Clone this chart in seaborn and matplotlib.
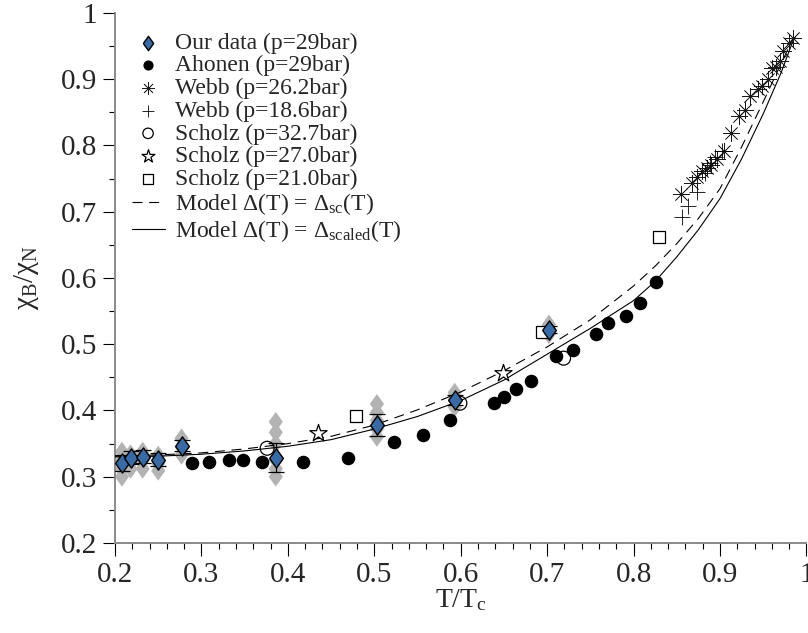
import numpy as np
import matplotlib
matplotlib.use("Agg")
import matplotlib.pyplot as plt
from matplotlib import font_manager
import seaborn as sns
from matplotlib.ticker import MultipleLocator

# ---------------- data ----------------
our_T = [0.208, 0.218, 0.232, 0.250, 0.277, 0.386, 0.503, 0.593, 0.702]
our_chi = [0.321, 0.329, 0.330, 0.326, 0.347, 0.329, 0.378, 0.416, 0.522]
our_err = [0.012, 0.010, 0.010, 0.010, 0.008, 0.022, 0.016, 0.008, 0.005]

# individual measurements (grey diamonds)
grey_T = [0.208, 0.208, 0.208, 0.208,
          0.218, 0.218, 0.218,
          0.232, 0.232, 0.232,
          0.250, 0.250, 0.250,
          0.277, 0.277, 0.277,
          0.386, 0.386, 0.386, 0.386, 0.386, 0.386,
          0.503, 0.503, 0.503, 0.503, 0.503,
          0.593, 0.593, 0.593,
          0.702, 0.702, 0.702]
grey_chi = [0.300, 0.312, 0.325, 0.338,
            0.312, 0.322, 0.334,
            0.312, 0.325, 0.338,
            0.309, 0.320, 0.332,
            0.333, 0.345, 0.358,
            0.300, 0.312, 0.325, 0.350, 0.367, 0.383,
            0.360, 0.372, 0.385, 0.397, 0.410,
            0.405, 0.416, 0.427,
            0.515, 0.522, 0.530]

ahonen_T = [0.289, 0.309, 0.332, 0.348, 0.370, 0.418, 0.469, 0.523, 0.556, 0.588,
            0.638, 0.650, 0.664, 0.681, 0.710, 0.730, 0.756, 0.770, 0.791, 0.807, 0.826]
ahonen_chi = [0.321, 0.322, 0.325, 0.325, 0.323, 0.323, 0.329, 0.352, 0.363, 0.386,
              0.412, 0.421, 0.433, 0.444, 0.482, 0.491, 0.515, 0.532, 0.542, 0.562, 0.594]

webb262_T = [0.855, 0.867, 0.873, 0.879, 0.885, 0.890, 0.897, 0.904, 0.913, 0.922, 0.929,
             0.935, 0.944, 0.949, 0.956, 0.960, 0.965, 0.969, 0.973, 0.980, 0.984]
webb262_chi = [0.727, 0.743, 0.752, 0.761, 0.766, 0.771, 0.780, 0.791, 0.819, 0.844, 0.854,
               0.874, 0.885, 0.890, 0.901, 0.917, 0.919, 0.927, 0.942, 0.955, 0.962]

webb186_T = [0.856, 0.863, 0.873, 0.883, 0.888, 0.894, 0.902]
webb186_chi = [0.692, 0.708, 0.730, 0.758, 0.774, 0.783, 0.791]

scholz327_T = [0.376, 0.599, 0.719]
scholz327_chi = [0.343, 0.411, 0.479]

scholz270_T = [0.435, 0.649]
scholz270_chi = [0.366, 0.457]

scholz210_T = [0.479, 0.694, 0.829]
scholz210_chi = [0.391, 0.519, 0.662]

model_T = [0.20, 0.25, 0.30, 0.35, 0.40, 0.45, 0.50, 0.55, 0.60, 0.65, 0.70,
           0.75, 0.80, 0.825, 0.85, 0.875, 0.90, 0.925, 0.95, 0.97, 0.985]
model_sc = [0.331, 0.333, 0.336, 0.342, 0.350, 0.361, 0.378, 0.401, 0.428, 0.460, 0.496,
            0.537, 0.588, 0.618, 0.652, 0.690, 0.735, 0.798, 0.866, 0.922, 0.963]
model_scaled = [0.330, 0.331, 0.334, 0.339, 0.346, 0.356, 0.372, 0.391, 0.415, 0.446, 0.485,
                0.524, 0.566, 0.595, 0.632, 0.673, 0.720, 0.780, 0.848, 0.908, 0.960]

labels = ["Our data (p=29bar)", "Ahonen (p=29bar)", "Webb (p=26.2bar)", "Webb (p=18.6bar)",
          "Scholz (p=32.7bar)", "Scholz (p=27.0bar)", "Scholz (p=21.0bar)",
          r"Model $\Delta$(T) = $\Delta_{\mathrm{sc}}$(T)",
          r"Model $\Delta$(T) = $\Delta_{\mathrm{scaled}}$(T)"]

# ---------------- style ----------------
sns.set_theme(style="ticks")

names = {f.name for f in font_manager.fontManager.ttflist}
serif = "DejaVu Serif"
for cand in ["Liberation Serif", "Times New Roman", "Tinos", "Nimbus Roman"]:
    if cand in names:
        serif = cand
        break

plt.rcParams['font.family'] = [serif, 'DejaVu Serif']
plt.rcParams['mathtext.fontset'] = 'custom'
plt.rcParams['mathtext.rm'] = serif
plt.rcParams['mathtext.it'] = serif + ':italic'
plt.rcParams['mathtext.default'] = 'regular'

fig = plt.figure(figsize=(8.08, 6.33), dpi=100)
ax = fig.add_axes([115 / 808, 1 - 543 / 633, (806.5 - 115) / 808, (543 - 13) / 633])

diamond = [(-0.72, 0), (0, 1), (0.72, 0), (0, -1), (-0.72, 0)]
asterisk = (8, 2, 0)

sns.scatterplot(x=grey_T, y=grey_chi, marker=diamond, s=200, color="#b3b3b3",
                edgecolor="none", linewidth=0, ax=ax, zorder=1, legend=False)

ax.errorbar(our_T, our_chi, yerr=our_err, fmt="none", ecolor="black",
            elinewidth=0.9, capsize=6, capthick=0.9, zorder=4)

sns.scatterplot(x=our_T, y=our_chi, marker=diamond, s=190, color="#3a6aa3",
                edgecolor="black", linewidth=1.0, ax=ax, zorder=6, label=labels[0])
sns.scatterplot(x=ahonen_T, y=ahonen_chi, marker="o", s=95, color="black",
                edgecolor="black", linewidth=0, ax=ax, zorder=5, label=labels[1])
sns.scatterplot(x=webb262_T, y=webb262_chi, marker=asterisk, s=140, color="#1a1a1a",
                linewidth=0.5, ax=ax, zorder=4, label=labels[2])
sns.scatterplot(x=webb186_T, y=webb186_chi, marker="+", s=140, color="black",
                linewidth=0.6, ax=ax, zorder=4, label=labels[3])
sns.scatterplot(x=scholz327_T, y=scholz327_chi, marker="o", s=100, facecolor="none",
                edgecolor="black", linewidth=0.9, ax=ax, zorder=4, label=labels[4])
sns.scatterplot(x=scholz270_T, y=scholz270_chi, marker="*", s=170, facecolor="white",
                edgecolor="black", linewidth=0.9, ax=ax, zorder=4, label=labels[5])
sns.scatterplot(x=scholz210_T, y=scholz210_chi, marker="s", s=75, facecolor="white",
                edgecolor="black", linewidth=0.9, ax=ax, zorder=4, label=labels[6])

sns.lineplot(x=model_T, y=model_sc, color="black", linewidth=0.8,
             linestyle=(0, (9, 6)), ax=ax, zorder=3, label=labels[7])
sns.lineplot(x=model_T, y=model_scaled, color="black", linewidth=0.8,
             ax=ax, zorder=3, label=labels[8])

# ---------------- axes ----------------
ax.set_xlim(0.2, 1.0)
ax.set_ylim(0.2, 1.0)
ax.xaxis.set_minor_locator(MultipleLocator(0.02))
ax.yaxis.set_minor_locator(MultipleLocator(0.05))
ax.set_xticks(np.arange(0.2, 1.001, 0.1))
ax.set_xticklabels(["0.2", "0.3", "0.4", "0.5", "0.6", "0.7", "0.8", "0.9", "1"])
ax.set_yticks(np.arange(0.2, 1.001, 0.1))
ax.set_yticklabels(["0.2", "0.3", "0.4", "0.5", "0.6", "0.7", "0.8", "0.9", "1"])

for s in ["top", "right"]:
    ax.spines[s].set_visible(False)
for s in ["left", "bottom"]:
    ax.spines[s].set_color("#8a8a8a")
    ax.spines[s].set_linewidth(1.4)

ax.tick_params(which="major", direction="out", length=9, width=0.8, color="black",
               labelsize=21, pad=4)
ax.tick_params(which="minor", direction="out", length=4.5, width=0.8, color="black")
ax.tick_params(axis="x", which="major", pad=5)

ax.set_xlabel(r"T/T$_{\mathrm{c}}$", fontsize=20, labelpad=-1)
ax.set_ylabel(r"χ$_{\mathrm{B}}$/χ$_{\mathrm{N}}$", fontsize=21, labelpad=14)

leg = ax.legend(loc="upper left", bbox_to_anchor=(0.0, 0.995), frameon=False,
                fontsize=17, markerscale=0.75, handlelength=1.4, handletextpad=0.45,
                labelspacing=0.05, borderaxespad=0.3)

fig.savefig("out.png", dpi=100)
